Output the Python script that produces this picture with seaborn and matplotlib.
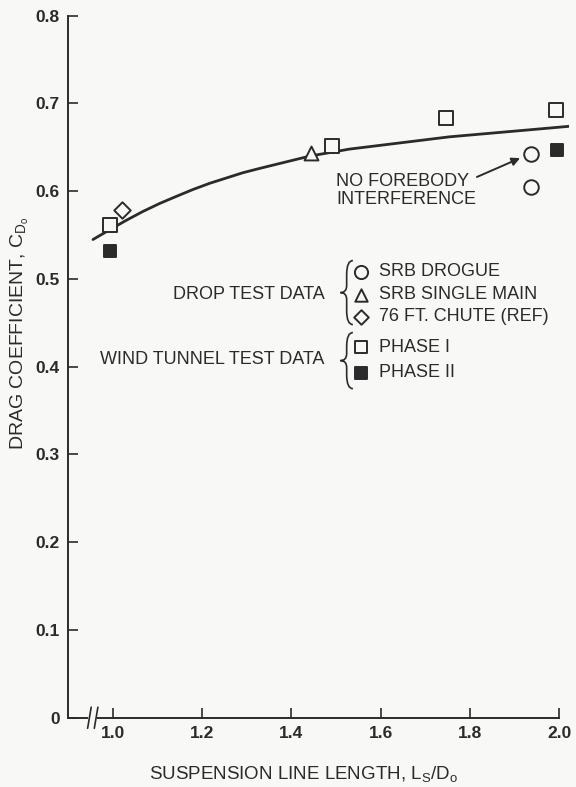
import numpy as np
import pandas as pd
import matplotlib
matplotlib.use('Agg')
import matplotlib.pyplot as plt
from matplotlib.path import Path
from matplotlib.patches import PathPatch
import seaborn as sns

# --- Data ---
SRB_DROGUE_X = [1.937, 1.937]
SRB_DROGUE_Y = [0.642, 0.605]
SRB_MAIN_X = [1.445]
SRB_MAIN_Y = [0.644]
CHUTE_76_X = [1.022]
CHUTE_76_Y = [0.579]
PHASE1_X = [0.993, 1.492, 1.747, 1.993]
PHASE1_Y = [0.562, 0.651, 0.683, 0.693]
PHASE2_X = [0.993, 1.996]
PHASE2_Y = [0.532, 0.647]

# faired curve through the data
CURVE_X = [0.956, 0.993, 1.031, 1.068, 1.105, 1.142, 1.180, 1.217, 1.254, 1.291, 1.329,
           1.385, 1.441, 1.530, 1.642, 1.754, 1.866, 1.978, 2.022]
CURVE_Y = [0.545, 0.556, 0.567, 0.577, 0.586, 0.594, 0.602, 0.609, 0.615, 0.621, 0.626,
           0.633, 0.640, 0.648, 0.655, 0.662, 0.667, 0.672, 0.674]

X_TICKS = [1.0, 1.2, 1.4, 1.6, 1.8, 2.0]
Y_TICKS = [0, 0.1, 0.2, 0.3, 0.4, 0.5, 0.6, 0.7, 0.8]
X_TICK_LABELS = ['1.0', '1.2', '1.4', '1.6', '1.8', '2.0']
Y_TICK_LABELS = ['0', '0.1', '0.2', '0.3', '0.4', '0.5', '0.6', '0.7', '0.8']

INK = '#2b2b2b'
BG = '#f8f8f6'
FS = 13

sns.set_style('ticks')
plt.rcParams['font.family'] = ['Liberation Sans', 'DejaVu Sans']
plt.rcParams['mathtext.fontset'] = 'custom'
plt.rcParams['mathtext.rm'] = 'Liberation Sans'
plt.rcParams['mathtext.it'] = 'Liberation Sans'

fig = plt.figure(figsize=(5.76, 7.87), dpi=100, facecolor=BG)
ax = fig.add_axes([0.118, 0.088, 0.870, 0.892])
ax.set_facecolor(BG)

curve = pd.DataFrame({'x': CURVE_X, 'y': CURVE_Y})
sns.lineplot(data=curve, x='x', y='y', ax=ax, color=INK, lw=2.0, sort=False)


def pts(xs, ys, marker, filled, size):
    sns.scatterplot(x=xs, y=ys, ax=ax, marker=marker, s=size,
                    facecolor=INK if filled else BG, edgecolor=INK,
                    linewidth=1.4, zorder=5)


pts(SRB_DROGUE_X, SRB_DROGUE_Y, 'o', False, 110)
pts(SRB_MAIN_X, SRB_MAIN_Y, '^', False, 100)
pts(CHUTE_76_X, CHUTE_76_Y, 'D', False, 70)
pts(PHASE1_X, PHASE1_Y, 's', False, 95)
pts(PHASE2_X, PHASE2_Y, 's', True, 85)

ax.set_xlim(0.9, 2.022)
ax.set_ylim(0, 0.8)
ax.set_xticks(X_TICKS)
ax.set_xticklabels(X_TICK_LABELS)
ax.set_yticks(Y_TICKS)
ax.set_yticklabels(Y_TICK_LABELS)
ax.tick_params(direction='in', length=7, width=1.2, colors=INK, labelsize=12.5, pad=6)
for lab in ax.get_yticklabels() + ax.get_xticklabels():
    lab.set_fontweight('bold')
sns.despine(ax=ax)
for side in ('left', 'bottom'):
    ax.spines[side].set_color(INK)
    ax.spines[side].set_linewidth(1.4)
ax.spines['bottom'].set_bounds(0.9, 2.0)

# axis break marks
ax.plot([0.950, 0.961], [0, 0], color=BG, lw=3, clip_on=False, zorder=5)
for bx in (0.948, 0.963):
    ax.plot([bx - 0.004, bx + 0.004], [-0.012, 0.012], color=INK, lw=1.2,
            clip_on=False, zorder=6)

ax.set_xlabel(r'SUSPENSION LINE LENGTH, $\mathregular{L_S/D_o}$', fontsize=FS + 0.5,
              color=INK)
ax.xaxis.set_label_coords(0.471, -0.066)
ax.set_ylabel(r'DRAG COEFFICIENT, $\mathregular{C_{D_o}}$', fontsize=FS + 1,
              color=INK)
ax.yaxis.set_label_coords(-0.074, 0.548)

# annotation
ax.text(1.501, 0.621, 'NO FOREBODY\nINTERFERENCE', fontsize=FS, color=INK,
        va='top', ha='left', linespacing=1.1)
ax.annotate('', xy=(1.918, 0.639), xytext=(1.810, 0.615),
            arrowprops=dict(arrowstyle='-|>', color=INK, lw=1.4, mutation_scale=12))


# legend block
def brace(x, y0, y1, w=0.014):
    mid = (y0 + y1) / 2
    h = 0.008
    verts = [(x + w, y1), (x, y1), (x, y1 - h * 2),
             (x, mid + h), (x, mid), (x - w, mid),
             (x, mid), (x, mid - h),
             (x, y0 + h * 2), (x, y0), (x + w, y0)]
    codes = [Path.MOVETO, Path.CURVE3, Path.CURVE3,
             Path.LINETO, Path.CURVE3, Path.CURVE3,
             Path.CURVE3, Path.CURVE3,
             Path.LINETO, Path.CURVE3, Path.CURVE3]
    ax.add_patch(PathPatch(Path(verts, codes), fill=False, edgecolor=INK, lw=1.2))


LEG_MX = 1.557
LEG_TX = 1.597
LEGEND_MARKERS = ['o', '^', 'D', 's', 's']
LEGEND_FILLED = [False, False, False, False, True]
LEGEND_LABELS = ['SRB DROGUE', 'SRB SINGLE MAIN', '76 FT. CHUTE (REF)', 'PHASE I', 'PHASE II']
LEGEND_Y = [0.508, 0.482, 0.457, 0.422, 0.393]
LEGEND_SIZES = [90, 80, 55, 75, 70]
for mk, filled, yy, label, sz in zip(LEGEND_MARKERS, LEGEND_FILLED, LEGEND_Y,
                                     LEGEND_LABELS, LEGEND_SIZES):
    pts([LEG_MX], [yy], mk, filled, sz)
    ax.text(LEG_TX, yy, label, fontsize=FS, color=INK, va='center', ha='left')

ax.text(1.474, 0.482, 'DROP TEST DATA', fontsize=FS, color=INK, va='center', ha='right')
ax.text(1.474, 0.408, 'WIND TUNNEL TEST DATA', fontsize=FS, color=INK, va='center', ha='right')
brace(1.524, 0.448, 0.521)
brace(1.524, 0.375, 0.439)

fig.savefig('out.png', dpi=100, facecolor=BG)
